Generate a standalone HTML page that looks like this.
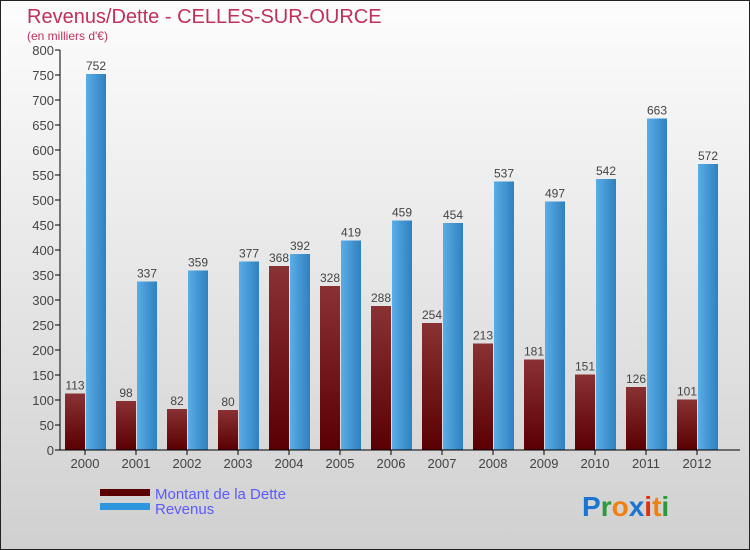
<!DOCTYPE html>
<html><head><meta charset="utf-8"><style>
body{margin:0;width:750px;height:550px;overflow:hidden}
svg{display:block;font-family:"Liberation Sans",sans-serif}
</style></head><body>
<svg id="c" width="750" height="550">
<defs>
<linearGradient id="bg" x1="0" y1="0" x2="0" y2="1"><stop offset="0" stop-color="#fdfdfd"/><stop offset="1" stop-color="#d0d0d0"/></linearGradient>
<linearGradient id="gd" x1="0" y1="0" x2="0" y2="1"><stop offset="0" stop-color="#8a3133"/><stop offset="1" stop-color="#5a0002"/></linearGradient>
<linearGradient id="gr" x1="0" y1="0" x2="1" y2="0"><stop offset="0" stop-color="#5aaee6"/><stop offset="1" stop-color="#2f80c0"/></linearGradient>
</defs>
<rect x="0.5" y="0.5" width="749" height="549" fill="url(#bg)" stroke="#222"/>
<text x="27" y="23" font-size="20" fill="#c0305a">Revenus/Dette - CELLES-SUR-OURCE</text>
<text x="27" y="40" font-size="12" fill="#c0305a">(en milliers d'€)</text>
<g id="plot"></g>
<rect x="100" y="489" width="50" height="7" fill="#5a0002"/>
<rect x="100" y="503" width="50" height="7" fill="#2f95dc"/>
<text x="155" y="499" font-size="15" fill="#5a5aff">Montant de la Dette</text>
<text x="155" y="514" font-size="15" fill="#5a5aff">Revenus</text>
<text x="582" y="516" font-size="28" font-weight="bold"><tspan fill="#1a75d0">P</tspan><tspan fill="#2a9a3a">r</tspan><tspan fill="#f08010">o</tspan><tspan fill="#1a75d0">x</tspan><tspan fill="#e03010">i</tspan><tspan fill="#f08010">t</tspan><tspan fill="#2a9a3a">i</tspan></text>
</svg>
<script>
const years=["2000","2001","2002","2003","2004","2005","2006","2007","2008","2009","2010","2011","2012"];
const dette=[113,98,82,80,368,328,288,254,213,181,151,126,101];
const revenus=[752,337,359,377,392,419,459,454,537,497,542,663,572];
const yTicks=[0,50,100,150,200,250,300,350,400,450,500,550,600,650,700,750,800];
const NS="http://www.w3.org/2000/svg";
const g=document.getElementById("plot");
const y=v=>450-v*0.5;
const x=i=>85+i*51;
function mk(t,a,txt){const e=document.createElementNS(NS,t);for(const k in a)e.setAttribute(k,a[k]);if(txt!==undefined)e.textContent=txt;g.appendChild(e);return e;}
yTicks.forEach(v=>{
 const l=mk("line",{x1:55,x2:60,y1:y(v),y2:y(v),stroke:"#000"});
 
 
 const t=mk("text",{x:54,y:y(v)+5,"text-anchor":"end","font-size":13,fill:"#444"},v);
 
 
});
years.forEach((yr,i)=>{
 const b1=mk("rect",{x:x(i)-20,y:y(dette[i]),width:20,height:dette[i]*0.5,fill:"url(#gd)"});
 
 
 const b2=mk("rect",{x:x(i)+1,y:y(revenus[i]),width:20,height:revenus[i]*0.5,fill:"url(#gr)"});
 
 
 const l1=mk("text",{x:x(i)-10,y:y(dette[i])-4,"text-anchor":"middle","font-size":12,fill:"#444"},dette[i]);
 
 
 const l2=mk("text",{x:x(i)+11,y:y(revenus[i])-4,"text-anchor":"middle","font-size":12,fill:"#444"},revenus[i]);
 
 
 const tk=mk("line",{x1:x(i),x2:x(i),y1:450,y2:455,stroke:"#000"});
 
 
 const xl=mk("text",{x:x(i),y:468,"text-anchor":"middle","font-size":13,fill:"#444"},yr);
 
 
});
const ya=mk("line",{x1:60,x2:60,y1:50,y2:450,stroke:"#000"});


const xa=mk("line",{x1:60,x2:740,y1:450,y2:450,stroke:"#000"});


</script>
</body></html>
